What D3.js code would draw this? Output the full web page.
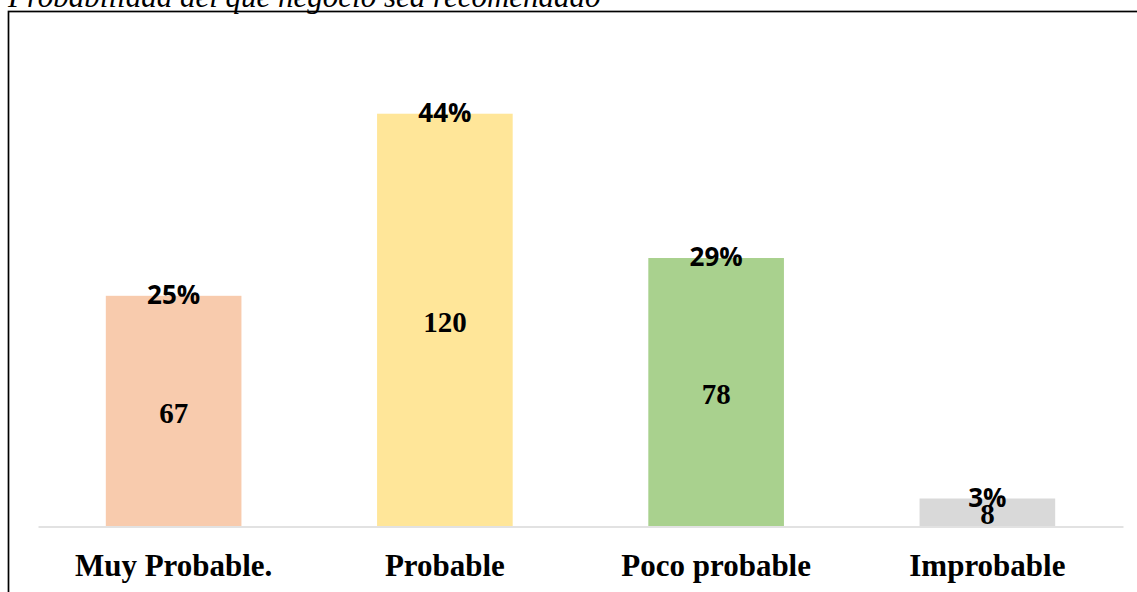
<!DOCTYPE html>
<html>
<head>
<meta charset="utf-8">
<script src="https://cdn.jsdelivr.net/npm/d3@7"></script>
<style>
  html, body { margin: 0; padding: 0; background: #ffffff; overflow: hidden; }
  svg { display: block; }
</style>
</head>
<body>
<svg id="chart" width="1137" height="592"></svg>
<script>
// ---- data ----
const categories = ["Muy Probable.", "Probable", "Poco probable", "Improbable"];
const counts = [67, 120, 78, 8];
const percentLabels = ["25%", "44%", "29%", "3%"];
const barColors = ["#F8CBAD", "#FFE699", "#A9D18E", "#D9D9D9"];
const titleText = "Probabilidad del que negocio sea recomendado";

const svg = d3.select("#chart");

// frame
svg.append("rect")
  .attr("x", 8.5).attr("y", 11.5)
  .attr("width", 1140).attr("height", 600)
  .attr("fill", "none").attr("stroke", "#000").attr("stroke-width", 1.7);

// title (partly cut off at top)
svg.append("text")
  .attr("x", 8).attr("y", 7)
  .attr("font-family", "'Liberation Serif', 'Times New Roman', serif")
  .attr("font-style", "italic")
  .attr("font-size", 31)
  .attr("fill", "#000")
  .text(titleText);

const x = d3.scaleBand()
  .domain(categories)
  .range([38, 1123])
  .paddingInner(0.5)
  .paddingOuter(0.25);

const y = d3.scaleLinear()
  .domain([0, 140])
  .range([526, 45]);

const data = categories.map((c, i) => ({ cat: c, v: counts[i], p: percentLabels[i], col: barColors[i] }));

// bars
svg.selectAll("rect.bar").data(data).enter().append("rect")
  .attr("class", "bar")
  .attr("x", d => x(d.cat))
  .attr("y", d => y(d.v))
  .attr("width", x.bandwidth())
  .attr("height", d => y(0) - y(d.v))
  .attr("fill", d => d.col);

// axis line
const axis = svg.append("g").attr("transform", `translate(0,${y(0) + 0.5})`)
  .call(d3.axisBottom(x).tickSize(0).tickPadding(0).tickFormat(""));
axis.select(".domain").attr("stroke", "#D9D9D9").attr("stroke-width", 1.5);

// category labels
svg.selectAll("text.cat").data(data).enter().append("text")
  .attr("class", "cat")
  .attr("x", d => x(d.cat) + x.bandwidth() / 2)
  .attr("y", 576)
  .attr("text-anchor", "middle")
  .attr("font-family", "'Liberation Serif', 'Times New Roman', serif")
  .attr("font-weight", "bold")
  .attr("font-size", 31)
  .attr("fill", "#000")
  .text(d => d.cat);

// value labels (center of bar)
svg.selectAll("text.val").data(data).enter().append("text")
  .attr("class", "val")
  .attr("x", d => x(d.cat) + x.bandwidth() / 2)
  .attr("y", d => (y(d.v) + y(0)) / 2 + 2)
  .attr("text-anchor", "middle")
  .attr("dominant-baseline", "central")
  .attr("font-family", "'Liberation Serif', 'Times New Roman', serif")
  .attr("font-weight", "bold")
  .attr("font-size", 29)
  .attr("fill", "#000")
  .text(d => d.v);

// percentage labels (at bar top)
svg.selectAll("text.pct").data(data).enter().append("text")
  .attr("class", "pct")
  .attr("x", d => x(d.cat) + x.bandwidth() / 2)
  .attr("y", d => y(d.v) - 2)
  .attr("text-anchor", "middle")
  .attr("dominant-baseline", "central")
  .attr("font-family", "'Open Sans', 'Noto Sans', sans-serif")
  .attr("font-weight", "bold")
  .attr("font-size", 26)
  .attr("fill", "#000")
  .text(d => d.p);
</script>
</body>
</html>
